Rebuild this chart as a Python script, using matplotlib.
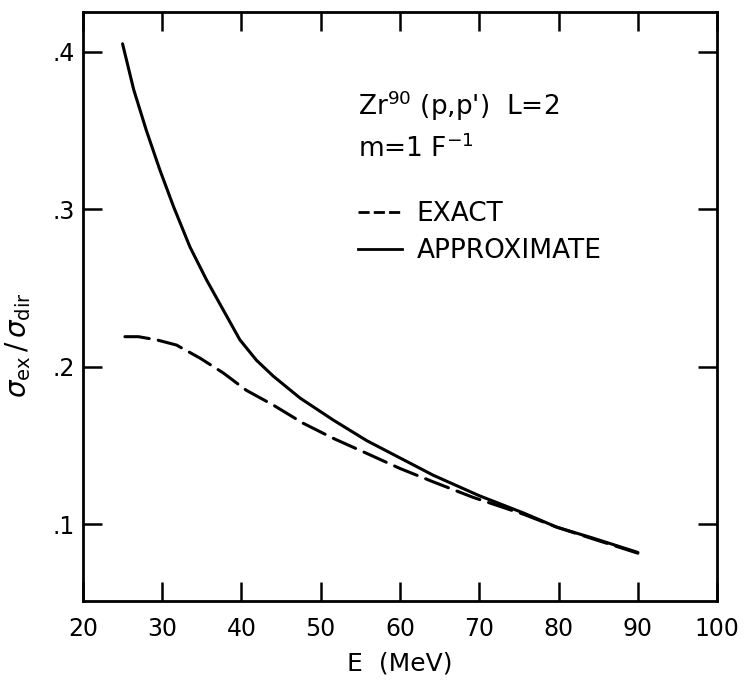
import matplotlib
matplotlib.use("Agg")
import matplotlib.pyplot as plt
from matplotlib.lines import Line2D

# ---- data ----
approx_E = [25, 26.4, 28, 29.7, 31.4, 33.5, 35.6, 37.7, 39.8, 41.9, 44, 47.4,
            51.6, 55.8, 60, 64.2, 70, 75.6, 79.8, 84.4, 90]
approx_y = [0.405, 0.376, 0.350, 0.325, 0.302, 0.276, 0.255, 0.236, 0.217, 0.204,
            0.194, 0.180, 0.166, 0.153, 0.142, 0.131, 0.118, 0.107, 0.098, 0.091, 0.082]

exact_E = [25.3, 27, 29.3, 31.8, 34.8, 37.7, 40.6, 44, 47.8, 51.6, 55.8, 60,
           64.2, 69.2, 75.6, 79.8, 84.4, 90]
exact_y = [0.219, 0.219, 0.217, 0.2137, 0.2053, 0.196, 0.185, 0.1756, 0.164,
           0.1544, 0.1449, 0.1353, 0.1268, 0.117, 0.1062, 0.098, 0.0905, 0.0815]

x_ticks = [20, 30, 40, 50, 60, 70, 80, 90, 100]
x_ticklabels = ["20", "30", "40", "50", "60", "70", "80", "90", "100"]
y_ticks = [0.1, 0.2, 0.3, 0.4]
y_ticklabels = [".1", ".2", ".3", ".4"]

plt.rcParams['font.family'] = ['DejaVu Sans']
plt.rcParams['mathtext.fontset'] = 'dejavusans'

fig = plt.figure(figsize=(7.47, 6.84), dpi=100)
ax = fig.add_axes([0.111, 0.121, 0.849, 0.861])

lw = 2.2
ax.plot(approx_E, approx_y, color='black', lw=lw, solid_capstyle='round',
        solid_joinstyle='round')
ax.plot(exact_E, exact_y, color='black', lw=lw, dashes=(8, 3), dash_capstyle='round',
        dash_joinstyle='round')

ax.set_xlim(20, 100)
ax.set_ylim(0.051, 0.425)
ax.set_xticks(x_ticks)
ax.set_xticklabels(x_ticklabels)
ax.set_yticks(y_ticks)
ax.set_yticklabels(y_ticklabels)

for s in ax.spines.values():
    s.set_linewidth(2.0)

ax.tick_params(axis='both', which='major', direction='in', length=14, width=1.8,
               top=True, right=True, labelsize=17, colors='black')
ax.tick_params(axis='x', pad=11)
ax.tick_params(axis='y', pad=6)

ax.set_xlabel("E  (MeV)", fontsize=18, labelpad=8)
ax.set_ylabel(r"$\sigma_{\rm ex}\,/\,\sigma_{\rm dir}$", fontsize=20)
ax.yaxis.set_label_coords(-0.079, 0.435)

ax.text(0.434, 0.825, r"Zr$^{\mathregular{90}}$ (p,p')  L=2", transform=ax.transAxes,
        fontsize=19, ha='left', va='baseline')
ax.text(0.434, 0.754, r"m=1 F$^{\mathregular{-1}}$", transform=ax.transAxes,
        fontsize=19, ha='left', va='baseline')

h_exact = Line2D([], [], color='black', lw=2.0, dashes=(4, 1.5))
h_approx = Line2D([], [], color='black', lw=2.0)
leg = ax.legend([h_exact, h_approx], ["EXACT", "APPROXIMATE"], loc='upper left',
                bbox_to_anchor=(0.434, 0.680), frameon=False, fontsize=19,
                handlelength=1.67, handletextpad=0.55, labelspacing=0.42,
                borderpad=0, borderaxespad=0)

fig.savefig("out.png", dpi=100)
